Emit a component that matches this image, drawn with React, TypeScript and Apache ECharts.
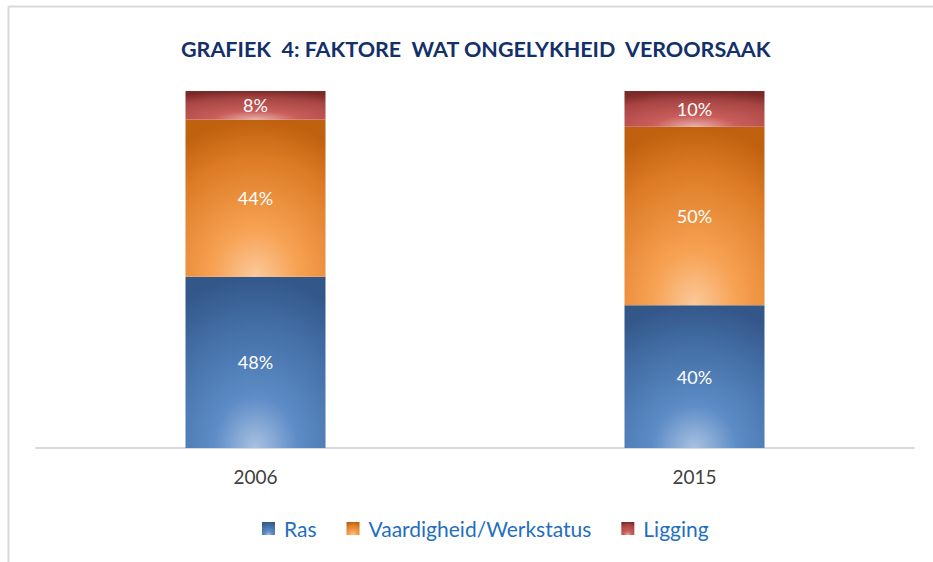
import React, { useEffect, useRef } from "react";
import * as echarts from "echarts";

const categories = ["2006", "2015"];
const seriesNames = ["Ras", "Vaardigheid/Werkstatus", "Ligging"];
const ras = [48, 40];
const vaardigheid = [44, 50];
const ligging = [8, 10];

const FONT = "Lato, 'Open Sans', sans-serif";

function radial(stops: [number, string][]) {
  return {
    type: "radial",
    x: 0.5,
    y: 1,
    r: 1,
    colorStops: stops.map(([offset, color]) => ({ offset, color })),
  } as any;
}

const blueFill = radial([
  [0, "#a9c1e2"],
  [0.3, "#5d8cc6"],
  [0.75, "#416ca3"],
  [1, "#34578a"],
]);
const orangeFill = radial([
  [0, "#fbc99c"],
  [0.3, "#f7a253"],
  [0.75, "#dd7b26"],
  [1, "#c0610f"],
]);
const redFill = radial([
  [0, "#eab0ae"],
  [0.3, "#c95e5b"],
  [0.75, "#a74543"],
  [1, "#7b2a29"],
]);

export default function App() {
  const ref = useRef<HTMLDivElement>(null);
  useEffect(() => {
    document.body.style.margin = "0";
    const chart = echarts.init(ref.current!, null, { renderer: "svg" });
    const label = {
      show: true,
      position: "inside",
      formatter: "{c}%",
      color: "#ffffff",
      fontSize: 18,
      fontFamily: FONT,
    };
    const fills = [blueFill, orangeFill, redFill];
    const data = [ras, vaardigheid, ligging];
    chart.setOption({
      animation: false,
      backgroundColor: "#ffffff",
      title: {
        text: "GRAFIEK  4: FAKTORE  WAT ONGELYKHEID  VEROORSAAK",
        left: 176,
        top: 33,
        textStyle: {
          color: "#13306b",
          fontSize: 21.5,
          fontWeight: "bold",
          fontFamily: FONT,
        },
      },
      graphic: [
        {
          type: "line",
          shape: { x1: 8.5, y1: 6.5, x2: 933, y2: 6.5 },
          style: { stroke: "#d9d9d9", lineWidth: 2 },
        },
        {
          type: "line",
          shape: { x1: 8.5, y1: 6.5, x2: 8.5, y2: 562 },
          style: { stroke: "#d9d9d9", lineWidth: 2 },
        },
      ],
      legend: {
        data: seriesNames,
        bottom: 18,
        left: 257,
        itemWidth: 13,
        itemHeight: 13,
        itemGap: 30,
        icon: "rect",
        textStyle: {
          color: "#1f6fc0",
          fontSize: 21,
          fontFamily: FONT,
          padding: [0, 0, 0, 4],
        },
      },
      grid: { left: 36, right: 19, top: 91, bottom: 114 },
      xAxis: {
        type: "category",
        data: categories,
        axisLine: { lineStyle: { color: "#d9d9d9", width: 2 } },
        axisTick: { show: false },
        axisLabel: {
          color: "#404040",
          fontSize: 19,
          fontFamily: FONT,
          margin: 19,
        },
      },
      yAxis: {
        type: "value",
        min: 0,
        max: 100,
        show: false,
        splitLine: { show: false },
      },
      series: seriesNames.map((name, i) => ({
        name,
        type: "bar",
        stack: "total",
        barWidth: 140,
        data: data[i],
        itemStyle: { color: fills[i] },
        label,
      })),
    });
    return () => chart.dispose();
  }, []);
  return <div ref={ref} style={{ width: 933, height: 562 }} />;
}
